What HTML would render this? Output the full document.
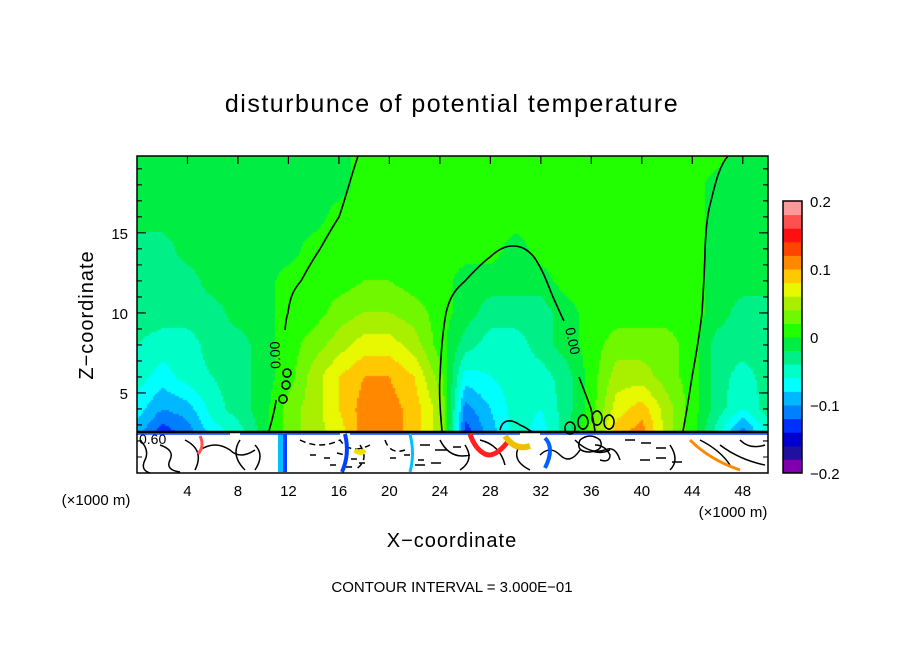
<!DOCTYPE html>
<html><head><meta charset="utf-8"><style>
html,body{margin:0;padding:0;background:#fff;}
#wrap{position:relative;width:904px;height:654px;overflow:hidden;font-family:"Liberation Sans",sans-serif;}
canvas{position:absolute;left:137px;top:156px;}
svg{position:absolute;left:0;top:0;}
</style></head><body>
<div id="wrap">
<canvas id="cv" width="631" height="317"></canvas>
<svg id="sv" width="904" height="654" font-family="Liberation Sans, sans-serif">
<text x="452" y="112" text-anchor="middle" font-size="25" letter-spacing="1.5">disturbunce of potential temperature</text>
<text x="452" y="547" text-anchor="middle" font-size="20" letter-spacing="1">X−coordinate</text>
<text transform="translate(93,315) rotate(-90)" text-anchor="middle" font-size="20" letter-spacing="1">Z−coordinate</text>
<text x="452" y="592" text-anchor="middle" font-size="15">CONTOUR INTERVAL = 3.000E−01</text>
<text x="96" y="505" text-anchor="middle" font-size="15">(×1000 m)</text>
<text x="733" y="517" text-anchor="middle" font-size="15">(×1000 m)</text>
<g id="ground" fill="none" stroke="#000" stroke-width="1.5">
<rect x="137" y="432" width="631" height="41" fill="#fff" stroke="none"/>
<rect x="278" y="434" width="5" height="38" fill="#00c0ff" stroke="none"/>
<rect x="283" y="434" width="4" height="38" fill="#0040ff" stroke="none"/>
<path d="M137,432 L768,432" stroke-width="2.5"/>
<path d="M137,434 L230,434 M240,434 L340,434 M350,434 L520,434 M540,434 L768,434" stroke="#0040ff" stroke-width="1.5"/>
<path d="M140,440 q10,10 5,20 q-5,10 5,13 M160,445 q15,5 10,15 q-5,10 10,12 M185,440 q20,10 10,30 M200,450 q15,-10 30,0 q10,10 25,0 M240,440 q-10,15 5,30 M255,445 q10,10 0,25"/>
<path d="M300,440 q20,10 40,0 q10,15 30,5 M310,455 l8,0 m6,3 l8,0 m5,-5 l8,2 m6,4 l8,0 M330,465 l10,0 m6,2 l8,0 m5,-4 l10,0 M360,445 q10,15 -5,25 M385,440 q5,15 20,10 M390,458 l8,0 m6,-3 l8,0 m6,5 l8,0" stroke-dasharray="6,4"/>
<path d="M420,445 l10,0 m5,5 l12,0 m6,-3 l8,0 M415,465 l10,0 m6,-2 l10,0 M440,440 q10,20 30,15 M465,445 q10,15 -5,25 M480,440 q20,5 25,25 M520,445 q-10,15 10,25 M540,455 q10,-10 20,0 q10,10 20,-5 M575,440 q15,15 30,10 q10,-5 15,10 M590,450 q10,5 20,0 M625,440 l10,0 m6,3 l10,0 m5,5 l10,0 M640,460 l10,0 m6,-2 l10,0 m6,4 l10,0 M670,445 q10,15 0,25 M700,440 q20,10 30,25 M720,445 q20,15 45,20 M740,440 q10,10 25,5"/>
<path d="M200,436 q5,10 -2,18" stroke="#ff5555" stroke-width="3"/>
<path d="M345,434 q5,20 -3,38" stroke="#0040ff" stroke-width="4"/>
<path d="M355,450 q5,5 10,0" stroke="#f0e000" stroke-width="5"/>
<path d="M410,434 q5,20 0,38" stroke="#00c0ff" stroke-width="3"/>
<path d="M470,434 q5,15 15,20 q10,5 25,-15" stroke="#ff2020" stroke-width="5"/>
<path d="M505,436 q10,15 25,10" stroke="#f0c000" stroke-width="6"/>
<path d="M545,438 q10,10 0,30" stroke="#0060ff" stroke-width="4"/>
<path d="M690,440 q20,20 50,30" stroke="#ff8800" stroke-width="3"/>
<path d="M580,440 q10,-8 20,0 q5,10 -10,12 q-15,0 -10,-12 M595,445 q10,0 15,10 q0,8 -10,5"/>
</g>
<g fill="none" stroke="#000" stroke-width="1.6">
<path d="M269,431 C272,420 275,410 276,400 M285,330 C286,320 287,315 288,313 C290,295 295,288 301,281 C308,268 314,258 320,249 C328,235 333,226 339,217 C345,200 350,180 358,156"/>
<path d="M442,431 C440,410 439,390 440,377 C441,350 443,330 446,313 C450,295 457,288 465,281 C475,270 482,263 490,257 C500,248 506,246 513,246 C522,246 528,250 534,257 C543,270 548,285 553,297 C558,308 561,315 564,321 M579,377 C584,390 588,400 591,409 C593,418 594,425 595,431"/>
<path d="M683,431 C687,410 690,390 692,377 C697,350 700,330 702,313 C704,280 705,260 705,249 C706,230 707,215 711,201 C716,180 720,165 728,156"/>
<path d="M500,430 C502,420 510,418 520,425 C528,428 530,432 534,432"/>
<path d="M283,373 a4,4 0 1,1 0,0.1 M282,385 a4,4 0 1,1 0,0.1 M279,399 a4,4 0 1,1 0,0.1"/>
<path d="M565,428 a5,6 0 1,1 0,0.1 M578,422 a5,7 0 1,1 0,0.1 M592,418 a5,7 0 1,1 0,0.1 M604,422 a5,7 0 1,1 0,0.1"/>
</g>
<text transform="translate(280,355) rotate(-92)" text-anchor="middle" font-size="14">0.00</text>
<text transform="translate(568,342) rotate(78)" text-anchor="middle" font-size="14">0.00</text>
<text x="139" y="444" font-size="14">0.60</text>
<rect x="137" y="156" width="631" height="317" fill="none" stroke="#000" stroke-width="1.5"/>
<g id="xt"></g>
<g id="yt"></g>
<g id="cb"></g>
</svg>
</div>
<script>
const xCoords=[0,2,4,6,8,10,12,14,16,18,20,22,24,26,28,30,32,34,36,38,40,42,44,46,48,50];
const zCoords=[2.6,4,6,8,10,12,14,16,18,20];
const fieldRows=[
[-9,-13,-11,-7,-5,-1,3,5,7,11,11,9,5,-13,-9,-5,-7,-3,3,9,11,5,1,-5,-11,-5],
[-7,-10,-9,-5,-3,-1,3,5,8,11,11,9,5,-11,-8,-5,-6,-3,1,7,9,5,1,-3,-6,-3],
[-5,-7,-5,-4,-3,-1,1,5,8,10,10,8,3,-7,-6,-5,-5,-3,1,5,5,3,1,-3,-5,-3],
[-4,-5,-5,-3,-3,-1,1,3,5,7,7,5,1,-3,-5,-5,-3,-1,1,3,3,3,1,-3,-3,-3],
[-3,-3,-3,-3,-1,-1,1,1,3,4,4,3,1,-1,-3,-3,-3,-1,1,1,1,1,1,-1,-3,-3],
[-3,-3,-3,-1,-1,-1,1,1,1,2,2,1,1,-1,-1,-1,-1,1,1,1,1,1,1,-1,-1,-1],
[-3,-3,-1,-1,-1,-1,-1,1,1,1,1,1,1,1,1,-1,1,1,1,1,1,1,1,-1,-1,-1],
[-1,-1,-1,-1,-1,-1,-1,-1,1,1,1,1,1,1,1,1,1,1,1,1,1,1,1,-1,-1,-1],
[-1,-1,-1,-1,-1,-1,-1,-1,-1,1,1,1,1,1,1,1,1,1,1,1,1,1,1,-1,-1,-1],
[-1,-1,-1,-1,-1,-1,-1,-1,-1,1,1,1,1,1,1,1,1,1,1,1,1,1,1,1,-1,-1]];
const colorLevels=['#8000b0','#2010a0','#0000d0','#0030ff','#0080ff','#00b8ff','#00ffff','#00ffc8','#00f088','#00ee44','#22ff00','#70f800','#a8f000','#e8f800','#ffc800','#ff8800','#ff4400','#ff1010','#ff5050','#ff9898'];
const xTicks=[4,8,12,16,20,24,28,32,36,40,44,48];
const yTicks=[5,10,15];
const cbTicks=['0.2','0.1','0','−0.1','−0.2'];
const cbVals=[0.2,0.1,0,-0.1,-0.2];

const X0=137,W=631,Y0=473,H=317,XMAX=50,ZMAX=19.8;
const sx=x=>X0+x/XMAX*W, sy=z=>Y0-z/ZMAX*H;
function val(x,z){
  let i=0;while(i<xCoords.length-2&&x>xCoords[i+1])i++;
  let j=0;while(j<zCoords.length-2&&z>zCoords[j+1])j++;
  const tx=Math.min(1,Math.max(0,(x-xCoords[i])/(xCoords[i+1]-xCoords[i])));
  const tz=Math.min(1,Math.max(0,(z-zCoords[j])/(zCoords[j+1]-zCoords[j])));
  const a=fieldRows[j][i],b=fieldRows[j][i+1],c=fieldRows[j+1][i],d=fieldRows[j+1][i+1];
  return (a*(1-tx)+b*tx)*(1-tz)+(c*(1-tx)+d*tx)*tz;
}
const ctx=document.getElementById('cv').getContext('2d');
const step=2;
for(let py=0;py<H;py+=step){for(let px=0;px<W;px+=step){
  const x=(px+step/2)/W*XMAX, z=(Y0-(156+py+step/2))/H*ZMAX;
  if(z<zCoords[0]) continue;
  const v=val(x,z);
  let k=Math.floor((v+20)/2);k=Math.max(0,Math.min(19,k));
  ctx.fillStyle=colorLevels[k];ctx.fillRect(px,py,step,step);
}}
const NS='http://www.w3.org/2000/svg';
function mk(tag,attrs,parent){const e=document.createElementNS(NS,tag);for(const k in attrs)e.setAttribute(k,attrs[k]);parent.appendChild(e);return e;}
const xt=document.getElementById('xt');
xTicks.forEach(t=>{
  const l=mk('path',{d:`M${sx(t)},156v8`,stroke:'#000','stroke-width':1.2},xt);
  
  
  const tx=mk('text',{x:sx(t),y:496,'text-anchor':'middle','font-size':15},xt);
  
  
  tx.textContent=t;
});
const yt=document.getElementById('yt');
for(let m=1;m<20;m++){
  const len=(m%5===0)?9:5;
  const l=mk('path',{d:`M${X0},${sy(m)}h${len}M${X0+W},${sy(m)}h-${len}`,stroke:'#000','stroke-width':1.1},yt);
  
  
}
yTicks.forEach(t=>{
  const tx=mk('text',{x:128,y:sy(t)+6,'text-anchor':'end','font-size':15},yt);
  
  
  tx.textContent=t;
});
const cb=document.getElementById('cb');
const CBX=783,CBW=19,CBT=201,CBB=473,n=colorLevels.length,bh=(CBB-CBT)/n;
colorLevels.forEach((c,i)=>{
  const r=mk('rect',{x:CBX,y:CBB-(i+1)*bh,width:CBW,height:bh+0.5,fill:c},cb);
  
  
});
mk('rect',{x:CBX,y:CBT,width:CBW,height:CBB-CBT,fill:'none',stroke:'#000','stroke-width':1.5},cb);
cbVals.forEach((v,i)=>{
  const y=CBB-(v+0.2)/0.4*(CBB-CBT);
  const tx=mk('text',{x:810,y:y+6,'font-size':15},cb);
  
  
  tx.textContent=cbTicks[i];
});
</script>
</body></html>
